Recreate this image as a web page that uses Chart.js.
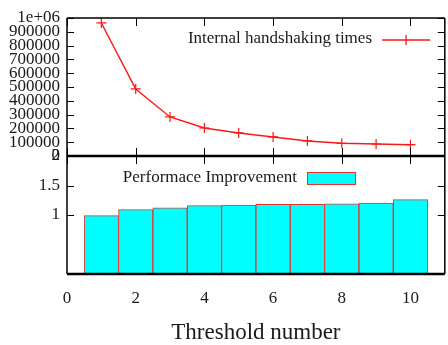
<!DOCTYPE html>
<html><head><meta charset="utf-8">
<script src="https://cdn.jsdelivr.net/npm/chart.js@4"></script>
<style>
html,body{margin:0;padding:0;background:#fff;overflow:hidden;width:448px;height:345px}
#wrap{position:relative;width:451px;height:345px}
</style></head><body>
<div id="wrap"><canvas id="c" width="451" height="345"></canvas></div>
<script>
const thresholds = [1, 2, 3, 4, 5, 6, 7, 8, 9, 10];
const handshakes = [964000, 486000, 283000, 203000, 167000, 138000, 109000, 92000, 87000, 82000];
const improvement = [0.99, 1.09, 1.12, 1.16, 1.17, 1.18, 1.18, 1.19, 1.20, 1.26];
const xTicks = [0, 2, 4, 6, 8, 10];
const topTicks = [0, 100000, 200000, 300000, 400000, 500000, 600000, 700000, 800000, 900000, 1000000];
const bottomTicks = [1, 1.5, 2];
const legendLine = 'Internal handshaking times';
const legendBar = 'Performace Improvement';
const xTitle = 'Threshold number';

const FONT = '"Liberation Serif","Times New Roman",serif';
const RED = 'rgb(250,25,25)';
const TXT = '#1a1a1a';

const framePlugin = {
  id: 'frame',
  afterDraw(c) {
    const ctx = c.ctx, a = c.chartArea, x = c.scales.x, y = c.scales.y, y2 = c.scales.y2;
    const mid = y.getPixelForValue(0);
    ctx.save();
    ctx.strokeStyle = '#000';
    ctx.lineWidth = 1;
    ctx.beginPath();
    topTicks.forEach(v => {
      const p = Math.round(y.getPixelForValue(v)) + 0.5;
      ctx.moveTo(a.left, p); ctx.lineTo(a.left + 7, p);
      ctx.moveTo(a.right - 7, p); ctx.lineTo(a.right, p);
    });
    bottomTicks.forEach(v => {
      const p = Math.round(y2.getPixelForValue(v)) + 0.5;
      ctx.moveTo(a.left, p); ctx.lineTo(a.left + 7, p);
      ctx.moveTo(a.right - 7, p); ctx.lineTo(a.right, p);
    });
    xTicks.forEach(v => {
      const p = Math.round(x.getPixelForValue(v)) + 0.5;
      ctx.moveTo(p, a.top); ctx.lineTo(p, a.top + 8);
      ctx.moveTo(p, mid - 8); ctx.lineTo(p, mid + 8);
    });
    ctx.stroke();
    ctx.lineWidth = 1.5;
    ctx.beginPath();
    ctx.moveTo(a.left, a.top); ctx.lineTo(a.right, a.top);
    ctx.moveTo(a.left, a.top); ctx.lineTo(a.left, a.bottom);
    ctx.moveTo(a.right, a.top); ctx.lineTo(a.right, a.bottom);
    ctx.stroke();
    ctx.lineWidth = 2.5;
    ctx.beginPath();
    ctx.moveTo(a.left, mid); ctx.lineTo(a.right, mid);
    ctx.moveTo(a.left, a.bottom); ctx.lineTo(a.right, a.bottom);
    ctx.stroke();
    ctx.font = '17px ' + FONT;
    ctx.fillStyle = TXT;
    ctx.textAlign = 'right';
    ctx.textBaseline = 'middle';
    ctx.fillText(legendLine, 372, 39);
    ctx.fillText(legendBar, 297, 178);
    ctx.strokeStyle = RED;
    ctx.lineWidth = 1.3;
    ctx.beginPath();
    ctx.moveTo(382, 40); ctx.lineTo(430, 40);
    ctx.moveTo(406, 35); ctx.lineTo(406, 45);
    ctx.stroke();
    ctx.fillStyle = '#00ffff';
    ctx.fillRect(307, 172, 48, 12);
    ctx.strokeStyle = 'rgb(230,50,50)';
    ctx.lineWidth = 1;
    ctx.strokeRect(307.5, 172.5, 48, 12);
    ctx.restore();
  }
};

new Chart(document.getElementById('c'), {
  data: {
    datasets: [
      {
        type: 'bar',
        label: legendBar,
        data: thresholds.map((t, i) => ({x: t, y: improvement[i]})),
        xAxisID: 'x', yAxisID: 'y2',
        backgroundColor: '#00ffff',
        borderColor: 'rgb(230,50,50)',
        borderWidth: 1,
        barPercentage: 1, categoryPercentage: 1
      },
      {
        type: 'line',
        label: legendLine,
        data: thresholds.map((t, i) => ({x: t, y: handshakes[i]})),
        xAxisID: 'x', yAxisID: 'y',
        borderColor: RED, backgroundColor: RED,
        borderWidth: 1.4,
        pointStyle: 'cross', pointRadius: 5, pointBorderWidth: 1.2,
        tension: 0, fill: false
      }
    ]
  },
  options: {
    responsive: false, animation: false,
    layout: {padding: {top: 18, left: 0, right: 0, bottom: 0}},
    plugins: {legend: {display: false}, tooltip: {enabled: false}},
    scales: {
      x: {
        type: 'linear', position: 'bottom', min: 0, max: 11, offset: false,
        grid: {display: false, drawTicks: false, offset: false}, border: {display: false},
        afterBuildTicks: s => { s.ticks = xTicks.map(v => ({value: v})); },
        afterFit: s => { s.height = 71; },
        ticks: {font: {family: FONT, size: 17}, color: TXT, padding: 14, maxRotation: 0},
        title: {display: true, text: xTitle, font: {family: FONT, size: 23}, color: TXT, padding: {top: 12, bottom: -2}}
      },
      y2: {
        type: 'linear', position: 'left', stack: 'p', stackWeight: 118,
        min: 0, max: 2,
        grid: {display: false, drawTicks: false}, border: {display: false},
        afterBuildTicks: s => { s.ticks = bottomTicks.map(v => ({value: v})); },
        afterFit: s => { s.width = 67; },
        ticks: {font: {family: FONT, size: 17}, color: TXT, padding: 7, autoSkip: false,
          callback: v => String(v)}
      },
      y: {
        type: 'linear', position: 'left', stack: 'p', stackWeight: 138,
        min: 0, max: 1000000,
        grid: {display: false, drawTicks: false}, border: {display: false},
        afterBuildTicks: s => { s.ticks = topTicks.map(v => ({value: v})); },
        afterFit: s => { s.width = 67; },
        ticks: {font: {family: FONT, size: 17}, color: TXT, padding: 7, autoSkip: false,
          callback: v => v === 1000000 ? '1e+06' : String(v)}
      }
    }
  },
  plugins: [framePlugin]
});
</script>
</body></html>
